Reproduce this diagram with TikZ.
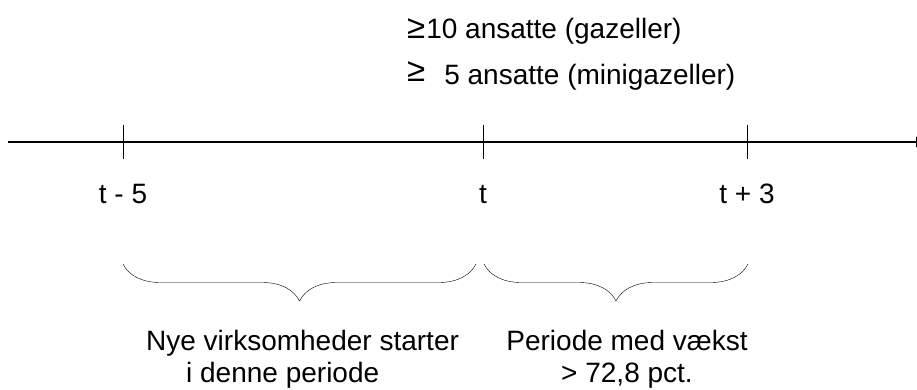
\documentclass[tikz,border=0pt]{standalone}
\usepackage{fontspec}
\setmainfont{Liberation Sans}
\usetikzlibrary{decorations.pathreplacing,arrows.meta}

\newcommand{\tidspunkt}[3]{
    \draw[thin] (#1,125) -- (#1,159);
    \node[txt, anchor=base] (#2) at (#1,203) {#3};
}
\newcommand{\klamme}[2]{
    \draw[thin, decorate, decoration={brace, mirror, amplitude=37}]
      (#1,264) -- (#2,264);
}

\begin{document}
\begin{tikzpicture}[x=1pt, y=-1pt,
    txt/.style={font=\fontsize{28}{32}\selectfont, inner sep=0pt}]

  \useasboundingbox (0,0) rectangle (917,390);

  % tidsakse
  \draw[line width=1.5pt, -{Latex[length=14pt,width=11pt]}] (8,142) -- (930,142);

  % (x, navn, tekst)
  \tidspunkt{123}{tm5}{t - 5}
  \tidspunkt{483}{t0}{t}
  \tidspunkt{747}{tp3}{t + 3}

  % (fra, til)
  \klamme{123}{476}
  \klamme{484}{748}

  \node[txt, anchor=base west] (gaz) at (407,39)
    {{\fontsize{33}{33}\selectfont ≥}\hspace{1pt}10 ansatte (gazeller)};
  \node[txt, anchor=base west] (mini) at (407,85)
    {\raisebox{3pt}{\fontsize{33}{33}\selectfont ≥}\hspace{19pt}5 ansatte (minigazeller)};

  \node[txt, anchor=west, align=left] (start) at (146,359)
    {Nye virksomheder starter\\\hspace*{40pt}i denne periode};
  \node[txt, align=center] (vaekst) at (627,359)
    {Periode med vækst\\> 72,8 pct.};

\end{tikzpicture}
\end{document}
